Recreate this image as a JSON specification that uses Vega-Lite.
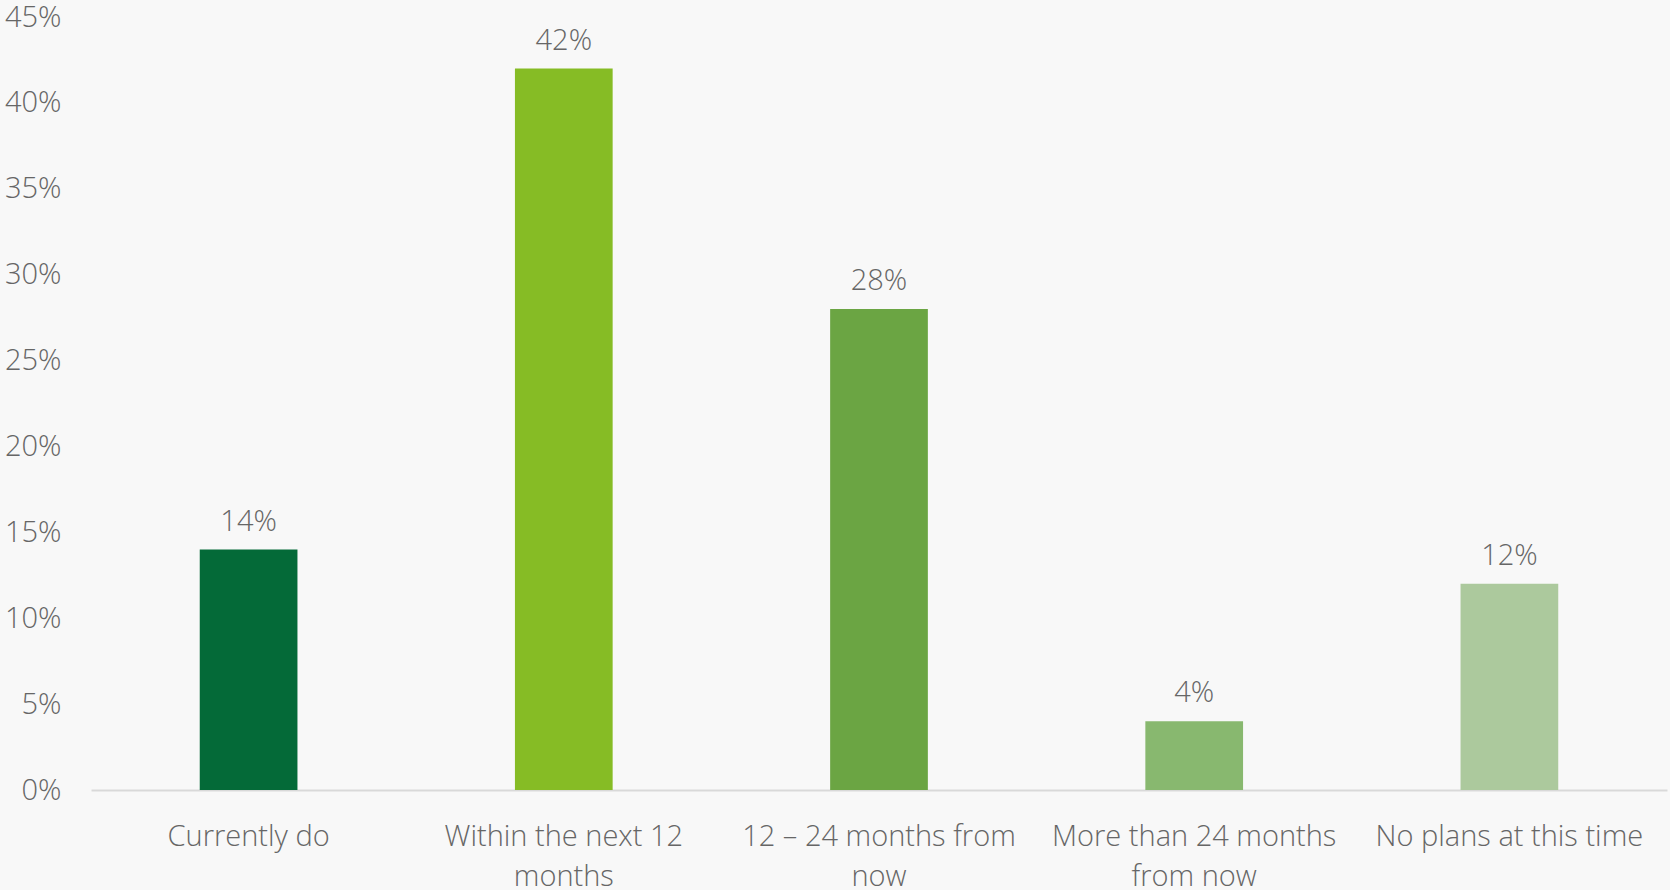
{
  "$schema": "https://vega.github.io/schema/vega-lite/v6.json",
  "width": 1576,
  "height": 773,
  "autosize": {"type": "none"},
  "padding": {"left": 91, "top": 17, "right": 3, "bottom": 100},
  "background": "#f8f8f8",
  "config": {
    "view": {"stroke": null},
    "font": "Open Sans"
  },
  "data": {
    "values": [
      {"category": "Currently do", "value": 0.14, "color": "#046a38"},
      {"category": "Within the next 12 months", "value": 0.42, "color": "#86bc25"},
      {"category": "12 – 24 months from now", "value": 0.28, "color": "#6ba543"},
      {"category": "More than 24 months from now", "value": 0.04, "color": "#88b86f"},
      {"category": "No plans at this time", "value": 0.12, "color": "#acc99d"}
    ]
  },
  "encoding": {
    "x": {
      "field": "category",
      "type": "nominal",
      "sort": null,
      "scale": {"paddingInner": 0.69, "paddingOuter": 0.345},
      "axis": {
        "title": null,
        "labelAngle": 0,
        "labelFontSize": 29,
        "labelFont": "Open Sans",
        "labelFontWeight": 300,
        "labelColor": "#666666",
        "labelPadding": 32,
        "labelLineHeight": 40,
        "labelLimit": 400,
        "ticks": false,
        "domainColor": "#d9d9d9",
        "domainWidth": 2,
        "labelExpr": "datum.value == 'Within the next 12 months' ? ['Within the next 12', 'months'] : datum.value == '12 – 24 months from now' ? ['12 – 24 months from', 'now'] : datum.value == 'More than 24 months from now' ? ['More than 24 months', 'from now'] : datum.value"
      }
    },
    "y": {
      "field": "value",
      "type": "quantitative",
      "scale": {"domain": [0, 0.45]},
      "axis": {
        "title": null,
        "format": ".0%",
        "values": [0, 0.05, 0.1, 0.15, 0.2, 0.25, 0.3, 0.35, 0.4, 0.45],
        "grid": false,
        "domain": false,
        "ticks": false,
        "labelFontSize": 29,
        "labelFont": "Open Sans",
        "labelFontWeight": 300,
        "labelColor": "#666666",
        "labelPadding": 30
      }
    }
  },
  "layer": [
    {
      "mark": {"type": "bar"},
      "encoding": {
        "color": {"field": "color", "type": "nominal", "scale": null}
      }
    },
    {
      "mark": {"type": "text", "baseline": "alphabetic", "dy": -19, "fontSize": 29, "fontWeight": 300, "color": "#666666", "font": "Open Sans"},
      "encoding": {
        "text": {"field": "value", "type": "quantitative", "format": ".0%"}
      }
    }
  ]
}
